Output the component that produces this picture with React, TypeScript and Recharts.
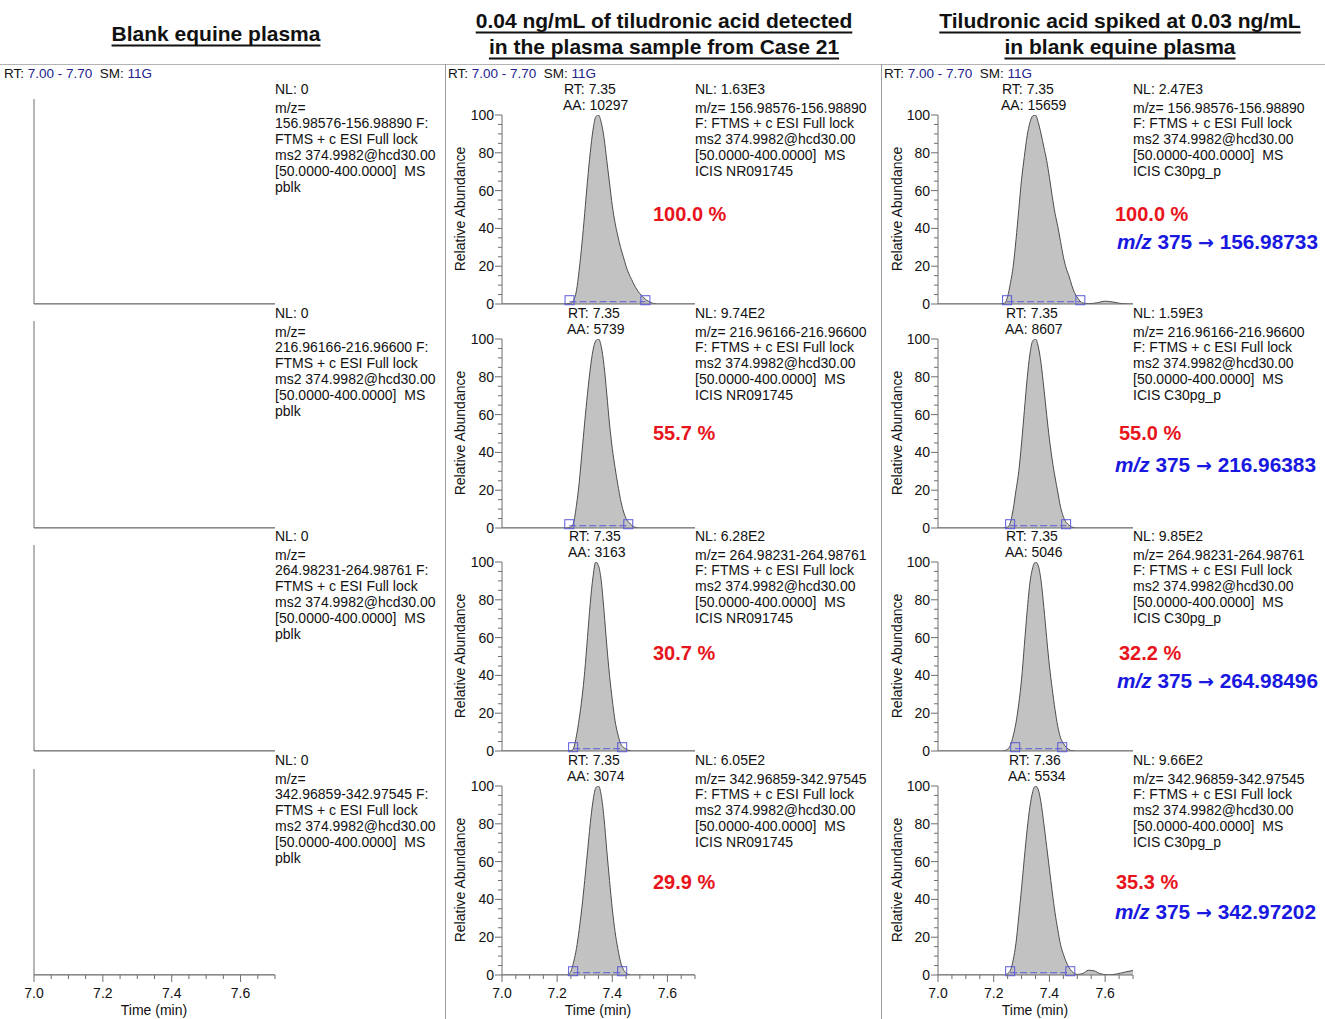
import React from 'react';
import { ComposedChart, Area, XAxis, YAxis, ReferenceDot, ReferenceLine } from 'recharts';

// ---------- data ----------
const TIME_TICKS = [7.0, 7.05, 7.1, 7.15, 7.2, 7.25, 7.3, 7.35, 7.4, 7.45, 7.5, 7.55, 7.6, 7.65, 7.7];
const ABUNDANCE_TICKS = [0, 5, 10, 15, 20, 25, 30, 35, 40, 45, 50, 55, 60, 65, 70, 75, 80, 85, 90, 95, 100];

const MZ_RANGES = ['156.98576-156.98890', '216.96166-216.96600', '264.98231-264.98761', '342.96859-342.97545'];
const BLANK_NL = ['0', '0', '0', '0'];
const CASE_NL = ['1.63E3', '9.74E2', '6.28E2', '6.05E2'];
const SPIKE_NL = ['2.47E3', '1.59E3', '9.85E2', '9.66E2'];
const CASE_RT = ['7.35', '7.35', '7.35', '7.35'];
const CASE_AA = ['10297', '5739', '3163', '3074'];
const SPIKE_RT = ['7.35', '7.35', '7.35', '7.36'];
const SPIKE_AA = ['15659', '8607', '5046', '5534'];
const CASE_RATIO = ['100.0', '55.7', '30.7', '29.9'];
const SPIKE_RATIO = ['100.0', '55.0', '32.2', '35.3'];
const PRODUCT_IONS = ['156.98733', '216.96383', '264.98496', '342.97202'];
const CASE_INTEGRATION = [[7.245, 7.52], [7.244, 7.458], [7.258, 7.436], [7.258, 7.436]];
const SPIKE_INTEGRATION = [[7.248, 7.511], [7.259, 7.46], [7.277, 7.446], [7.259, 7.475]];

const blankTrace: [number, number][] = [[7.0, 0], [7.7, 0]];

const case21_m157: [number, number][] = [[7.0, 0], [7.22, 0], [7.25, 0.5], [7.26, 2], [7.27, 7], [7.28, 18], [7.29, 32], [7.3, 48], [7.31, 65], [7.32, 80], [7.33, 92], [7.34, 99], [7.35, 100], [7.36, 96], [7.37, 88], [7.38, 76], [7.39, 64], [7.4, 52], [7.41, 43], [7.42, 36], [7.43, 30], [7.44, 25], [7.45, 20], [7.46, 16], [7.47, 13], [7.48, 10], [7.49, 7.5], [7.5, 5.5], [7.51, 4], [7.52, 2.5], [7.53, 1.5], [7.54, 0.8], [7.55, 0.3], [7.57, 0], [7.7, 0]];
const case21_m217: [number, number][] = [[7.0, 0], [7.23, 0], [7.25, 0.5], [7.26, 3], [7.27, 12], [7.28, 24], [7.29, 40], [7.3, 56], [7.31, 71], [7.32, 84], [7.33, 94], [7.34, 99], [7.35, 100], [7.36, 96], [7.37, 86], [7.38, 71], [7.39, 55], [7.4, 42], [7.41, 32], [7.42, 23], [7.43, 15], [7.44, 9], [7.45, 5], [7.46, 3], [7.47, 1.5], [7.48, 0.5], [7.5, 0], [7.7, 0]];
const case21_m265: [number, number][] = [[7.0, 0], [7.24, 0], [7.255, 0.5], [7.26, 1.5], [7.27, 8], [7.28, 17], [7.29, 28], [7.3, 42], [7.31, 60], [7.32, 78], [7.33, 92], [7.34, 100], [7.35, 98], [7.36, 90], [7.37, 74], [7.38, 56], [7.39, 40], [7.4, 27], [7.41, 16], [7.42, 9], [7.43, 4], [7.44, 2], [7.45, 1], [7.46, 0.3], [7.48, 0], [7.7, 0]];
const case21_m343: [number, number][] = [[7.0, 0], [7.23, 0], [7.24, 0.3], [7.25, 2], [7.26, 7], [7.27, 14], [7.28, 24], [7.29, 36], [7.3, 50], [7.31, 65], [7.32, 80], [7.33, 92], [7.34, 99], [7.35, 100], [7.36, 95], [7.37, 83], [7.38, 66], [7.39, 50], [7.4, 35], [7.41, 23], [7.42, 14], [7.43, 7], [7.44, 3], [7.45, 1], [7.46, 0.3], [7.47, 0], [7.7, 0]];

const spiked_m157: [number, number][] = [[7.0, 0], [7.22, 0], [7.24, 0.5], [7.25, 4], [7.26, 11], [7.27, 20], [7.28, 34], [7.29, 50], [7.3, 66], [7.31, 78], [7.32, 89], [7.33, 96], [7.34, 99.5], [7.35, 100], [7.36, 96], [7.37, 90], [7.38, 83], [7.39, 76], [7.4, 67], [7.41, 57], [7.42, 48], [7.43, 41], [7.44, 33], [7.45, 25], [7.46, 19], [7.47, 15], [7.48, 10], [7.49, 6], [7.5, 3.5], [7.51, 1.5], [7.52, 0.5], [7.54, 0.2], [7.57, 0.6], [7.6, 1.5], [7.63, 1.0], [7.66, 0.2], [7.7, 0]];
const spiked_m217: [number, number][] = [[7.0, 0], [7.23, 0], [7.25, 0.5], [7.26, 3], [7.27, 10], [7.28, 20], [7.29, 30], [7.3, 45], [7.31, 62], [7.32, 79], [7.33, 92], [7.34, 99], [7.35, 100], [7.36, 96], [7.37, 87], [7.38, 74], [7.39, 60], [7.4, 47], [7.41, 36], [7.42, 27], [7.43, 19], [7.44, 11], [7.45, 6], [7.46, 3], [7.47, 1.5], [7.48, 0.5], [7.5, 0], [7.7, 0]];
const spiked_m265: [number, number][] = [[7.0, 0], [7.23, 0], [7.245, 0.5], [7.26, 3], [7.27, 8], [7.28, 15], [7.29, 25], [7.3, 38], [7.31, 56], [7.32, 74], [7.33, 89], [7.34, 97], [7.35, 100], [7.36, 98], [7.37, 90], [7.38, 76], [7.39, 60], [7.4, 45], [7.41, 33], [7.42, 22], [7.43, 13], [7.44, 7], [7.45, 4], [7.46, 2], [7.47, 0.8], [7.48, 0.2], [7.5, 0], [7.7, 0]];
const spiked_m343: [number, number][] = [[7.0, 0], [7.24, 0], [7.25, 0.8], [7.26, 2.5], [7.27, 8], [7.28, 17], [7.29, 31], [7.3, 46], [7.31, 62], [7.32, 77], [7.33, 89], [7.34, 97], [7.35, 100], [7.36, 98], [7.37, 91], [7.38, 80], [7.39, 68], [7.4, 56], [7.41, 44], [7.42, 33], [7.43, 24], [7.44, 16], [7.45, 11], [7.46, 7], [7.47, 4], [7.48, 2], [7.49, 0.8], [7.5, 0.3], [7.52, 0.8], [7.54, 2.5], [7.56, 2.2], [7.58, 0.8], [7.61, 0.1], [7.64, 0.5], [7.67, 1.5], [7.7, 2.4]];

const CASE_TRACES = [case21_m157, case21_m217, case21_m265, case21_m343];
const SPIKE_TRACES = [spiked_m157, spiked_m217, spiked_m265, spiked_m343];

// ---------- style / layout ----------
const FONT = '"Liberation Sans", Arial, Helvetica, sans-serif';
const AXIS = '#6e6e6e';
const TXT = '#111';
const NAVY = '#23238e';
const RED = '#e8141c';
const BLUE = '#1818e0';
const INT_BLUE = '#5a5ad8';

const Y_BOTS = [304, 528, 751, 975];
const ROW_OFF = [0, 224, 447, 671];
const COLS = [
  { axisX: 34, plotW: 241, yTops: [99, 321, 545, 769] },
  { axisX: 502, plotW: 193, yTops: [115, 339, 562, 786] },
  { axisX: 938, plotW: 195, yTops: [115, 339, 562, 786] },
];

const toRows = (tr: [number, number][]) => tr.map(([t, v]) => ({ t, v }));

const XTick = (props: any) => {
  const { x, y, payload } = props;
  const v = payload.value as number;
  const major = Math.round(v * 100) % 20 === 0;
  return (
    <g>
      <line x1={x} x2={x} y1={y} y2={y + (major ? 7 : 4)} stroke={AXIS} strokeWidth={1} />
      {major && (
        <text x={x} y={y + 18} textAnchor="middle" dominantBaseline="central" fontSize={14} fontFamily={FONT} fill={TXT}>
          {v.toFixed(1)}
        </text>
      )}
    </g>
  );
};

const YTick = (props: any) => {
  const { x, y, payload } = props;
  const v = payload.value as number;
  const major = v % 20 === 0;
  return (
    <g>
      <line x1={x - (major ? 7 : 4)} x2={x} y1={y} y2={y} stroke={AXIS} strokeWidth={1} />
      {major && (
        <text x={x - 8} y={y} textAnchor="end" dominantBaseline="central" fontSize={14} fontFamily={FONT} fill={TXT}>
          {v}
        </text>
      )}
    </g>
  );
};

const IntSquare = (p: any) => (
  <rect x={p.cx - 4.5} y={p.cy - 4.5} width={9} height={9} fill="none" stroke={INT_BLUE} strokeWidth={1} />
);

function Panel({ trace, col, row, blank, integ }: { trace: [number, number][]; col: number; row: number; blank?: boolean; integ?: number[] }) {
  const g = COLS[col];
  const yTop = g.yTops[row];
  const yBot = Y_BOTS[row];
  const bottom = row === 3;
  const mt = 10, mr = 4, mb = bottom ? 2 : 10, yW = 50;
  const xH = bottom ? 30 : 1;
  const height = mt + (yBot - yTop) + xH + mb;
  const width = yW + g.plotW + mr;
  return (
    <div style={{ position: 'absolute', left: g.axisX - yW, top: yTop - mt }}>
      <ComposedChart width={width} height={height} data={toRows(trace)} margin={{ top: mt, right: mr, bottom: mb, left: 0 }}>
        <XAxis
          type="number"
          dataKey="t"
          domain={[7.0, 7.7]}
          allowDataOverflow
          ticks={TIME_TICKS}
          interval={0}
          tickSize={0}
          tickMargin={0}
          tickLine={false}
          tick={bottom ? (p: any) => <XTick {...p} /> : false}
          height={xH}
          axisLine={{ stroke: AXIS }}
        />
        <YAxis
          type="number"
          domain={[0, 100]}
          allowDataOverflow
          ticks={ABUNDANCE_TICKS}
          interval={0}
          tickSize={0}
          tickMargin={0}
          tickLine={false}
          tick={blank ? false : (p: any) => <YTick {...p} />}
          width={yW}
          axisLine={{ stroke: AXIS }}
        />
        <Area
          type="monotone"
          dataKey="v"
          stroke="#4d4d4d"
          strokeWidth={1}
          fill="#c2c2c2"
          fillOpacity={1}
          dot={false}
          activeDot={false}
          isAnimationActive={false}
        />
        {integ && (
          <ReferenceLine
            segment={[{ x: integ[0], y: 1.2 }, { x: integ[1], y: 1.2 }]}
            stroke={INT_BLUE}
            strokeDasharray="7 3"
            strokeWidth={1}
          />
        )}
        {integ && <ReferenceDot x={integ[0]} y={2} r={4} shape={IntSquare} />}
        {integ && <ReferenceDot x={integ[1]} y={2} r={4} shape={IntSquare} />}
      </ComposedChart>
    </div>
  );
}

function T({ x, y, children, size = 14, anchor = 'left', style }: any) {
  const tx = anchor === 'center' ? '-50%' : anchor === 'right' ? '-100%' : '0';
  return (
    <div
      style={{
        position: 'absolute',
        left: x,
        top: y,
        transform: `translate(${tx}, -50%)`,
        fontSize: size,
        lineHeight: 1,
        whiteSpace: 'pre',
        fontFamily: FONT,
        color: TXT,
        ...style,
      }}
    >
      {children}
    </div>
  );
}

function Header({ x }: { x: number }) {
  return (
    <T x={x} y={74} size={13.5}>
      RT: <span style={{ color: NAVY }}>7.00 - 7.70</span>{'  '}SM: <span style={{ color: NAVY }}>11G</span>
    </T>
  );
}

function InfoBlock({ x, row, nl, mz, last, split }: any) {
  const o = ROW_OFF[row];
  const lines = split
    ? ['m/z=', `${mz} F:`, 'FTMS + c ESI Full lock', 'ms2 374.9982@hcd30.00', '[50.0000-400.0000]  MS', last]
    : [`m/z= ${mz}`, 'F: FTMS + c ESI Full lock', 'ms2 374.9982@hcd30.00', '[50.0000-400.0000]  MS', last];
  return (
    <>
      <T x={x} y={89 + o}>NL: {nl}</T>
      {lines.map((l, i) => (
        <T key={i} x={x} y={107.5 + o + i * 15.9}>
          {l}
        </T>
      ))}
    </>
  );
}

const titleStyle = { fontWeight: 700, textDecoration: 'underline', textUnderlineOffset: 4, textDecorationThickness: 2 };

export default function App() {
  const rows = [0, 1, 2, 3];
  const redX2 = 653;
  const redX3 = [1115, 1119, 1119, 1116];
  const blueX3 = [1117, 1115, 1117, 1115];
  const redY = [214, 433, 653, 882];
  const blueY = [242, 465, 681, 912];
  const rtX2 = [564, 568, 569, 568];
  const rtX3 = [1002, 1006, 1006, 1009];
  return (
    <div style={{ position: 'absolute', left: 0, top: 0, width: 1325, height: 1019, background: '#fff', overflow: 'hidden', fontFamily: FONT }}>
      {/* titles */}
      <T x={216} y={33} size={21} anchor="center" style={titleStyle}>Blank equine plasma</T>
      <T x={664} y={20} size={21} anchor="center" style={titleStyle}>0.04 ng/mL of tiludronic acid detected</T>
      <T x={664} y={46} size={21} anchor="center" style={titleStyle}>in the plasma sample from Case 21</T>
      <T x={1120} y={20} size={21} anchor="center" style={titleStyle}>Tiludronic acid spiked at 0.03 ng/mL</T>
      <T x={1120} y={46} size={21} anchor="center" style={titleStyle}>in blank equine plasma</T>

      {/* frame lines */}
      <div style={{ position: 'absolute', left: 0, top: 64, width: 1325, height: 1, background: '#b4b4b4' }} />
      <div style={{ position: 'absolute', left: 445, top: 64, width: 1, height: 955, background: '#9a9a9a' }} />
      <div style={{ position: 'absolute', left: 881, top: 64, width: 1, height: 955, background: '#9a9a9a' }} />

      <Header x={4} />
      <Header x={448} />
      <Header x={884} />

      {rows.map((r) => (
        <React.Fragment key={r}>
          <Panel trace={blankTrace} col={0} row={r} blank />
          <Panel trace={CASE_TRACES[r]} col={1} row={r} integ={CASE_INTEGRATION[r]} />
          <Panel trace={SPIKE_TRACES[r]} col={2} row={r} integ={SPIKE_INTEGRATION[r]} />

          <InfoBlock x={275} row={r} nl={BLANK_NL[r]} mz={MZ_RANGES[r]} last="pblk" split />
          <InfoBlock x={695} row={r} nl={CASE_NL[r]} mz={MZ_RANGES[r]} last="ICIS NR091745" />
          <InfoBlock x={1133} row={r} nl={SPIKE_NL[r]} mz={MZ_RANGES[r]} last="ICIS C30pg_p" />

          <T x={rtX2[r]} y={89 + ROW_OFF[r]}>RT: {CASE_RT[r]}</T>
          <T x={rtX2[r] - 1} y={105 + ROW_OFF[r]}>AA: {CASE_AA[r]}</T>
          <T x={rtX3[r]} y={89 + ROW_OFF[r]}>RT: {SPIKE_RT[r]}</T>
          <T x={rtX3[r] - 1} y={105 + ROW_OFF[r]}>AA: {SPIKE_AA[r]}</T>

          <T x={460} y={209 + ROW_OFF[r]} anchor="center" style={{ transform: 'translate(-50%, -50%) rotate(-90deg)' }}>Relative Abundance</T>
          <T x={897} y={209 + ROW_OFF[r]} anchor="center" style={{ transform: 'translate(-50%, -50%) rotate(-90deg)' }}>Relative Abundance</T>

          <T x={redX2} y={redY[r]} size={20} style={{ fontWeight: 700, color: RED }}>{CASE_RATIO[r]} %</T>
          <T x={redX3[r]} y={redY[r]} size={20} style={{ fontWeight: 700, color: RED }}>{SPIKE_RATIO[r]} %</T>
          <T x={blueX3[r]} y={blueY[r]} size={20.8} style={{ fontWeight: 700, color: BLUE }}>
            <i>m/z</i> 375 <span style={{ fontFamily: '"DejaVu Sans", sans-serif', fontSize: 19 }}>→</span> {PRODUCT_IONS[r]}
          </T>
        </React.Fragment>
      ))}

      <T x={154} y={1010} anchor="center">Time (min)</T>
      <T x={598} y={1010} anchor="center">Time (min)</T>
      <T x={1035} y={1010} anchor="center">Time (min)</T>
    </div>
  );
}
